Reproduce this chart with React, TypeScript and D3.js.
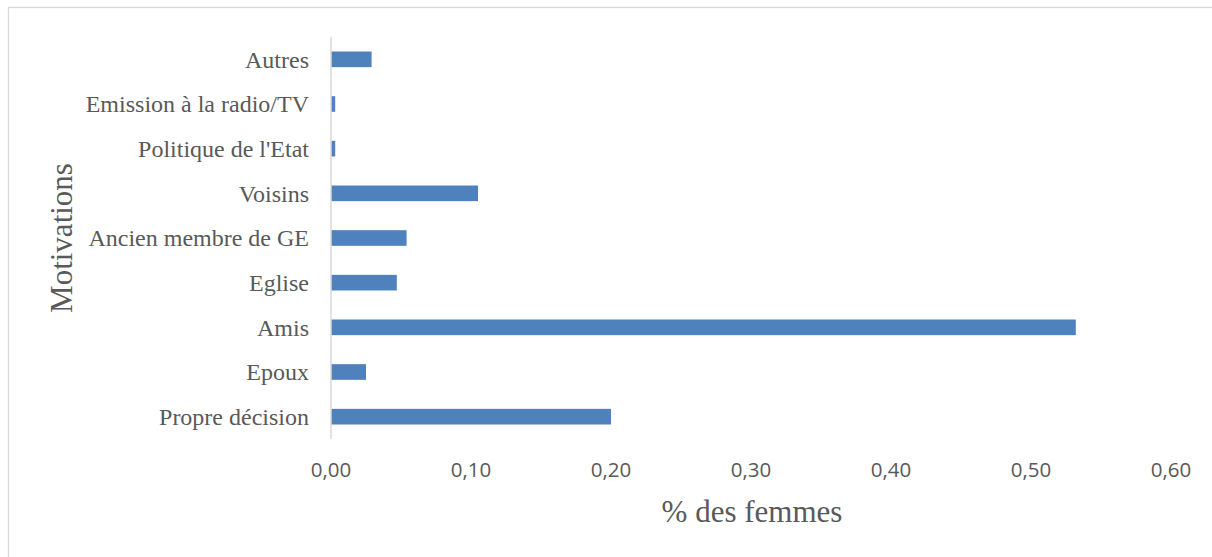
import React, { useEffect, useRef } from "react";
import * as d3 from "d3";

// top to bottom, as drawn
const categories = [
  "Autres",
  "Emission à la radio/TV",
  "Politique de l'Etat",
  "Voisins",
  "Ancien membre de GE",
  "Eglise",
  "Amis",
  "Epoux",
  "Propre décision",
];
const values = [0.029, 0.003, 0.003, 0.105, 0.054, 0.047, 0.532, 0.025, 0.2];
const xTicks = [0, 0.1, 0.2, 0.3, 0.4, 0.5, 0.6];

const W = 1212;
const H = 557;

const App = () => {
  const svgRef = useRef(null);

  useEffect(() => {
    const svg = d3.select(svgRef.current);
    svg.selectAll("*").remove();

    const left = 331;
    const right = 1171;
    const top = 37;
    const bottom = 439;

    const x = d3.scaleLinear().domain([0, 0.6]).range([left, right]);
    const y = d3
      .scaleBand()
      .domain(categories)
      .range([top, bottom])
      .paddingInner(0.65)
      .paddingOuter(0.325);

    // chart frame (runs off the page on the right and bottom)
    svg
      .append("rect")
      .attr("x", 8.5)
      .attr("y", 7.5)
      .attr("width", 1400)
      .attr("height", 800)
      .attr("fill", "#fff")
      .attr("stroke", "#d9d9d9")
      .attr("stroke-width", 1.3);

    svg
      .append("g")
      .selectAll("rect")
      .data(categories)
      .join("rect")
      .attr("x", x(0))
      .attr("y", (d) => y(d))
      .attr("width", (d, i) => x(values[i]) - x(0))
      .attr("height", y.bandwidth())
      .attr("fill", "#4f81bd");

    svg
      .append("line")
      .attr("x1", left)
      .attr("x2", left)
      .attr("y1", top)
      .attr("y2", bottom)
      .attr("stroke", "#d9d9d9")
      .attr("stroke-width", 1.5);

    // category labels
    svg
      .append("g")
      .selectAll("text")
      .data(categories)
      .join("text")
      .attr("x", left - 22)
      .attr("y", (d) => y(d) + y.bandwidth() / 2)
      .attr("dy", "0.35em")
      .attr("text-anchor", "end")
      .attr("font-family", "'Liberation Serif', serif")
      .attr("font-size", 24)
      .attr("fill", "#595959")
      .text((d) => d);

    // x tick labels
    svg
      .append("g")
      .selectAll("text")
      .data(xTicks)
      .join("text")
      .attr("x", (d) => x(d))
      .attr("y", 477)
      .attr("text-anchor", "middle")
      .attr("font-family", "'Open Sans', sans-serif")
      .attr("font-size", 20.5)
      .attr("fill", "#595959")
      .text((d) => d3.format(".2f")(d).replace(".", ","));

    svg
      .append("text")
      .attr("x", 752)
      .attr("y", 522)
      .attr("text-anchor", "middle")
      .attr("font-family", "'Liberation Serif', serif")
      .attr("font-size", 31)
      .attr("fill", "#595959")
      .text("% des femmes");

    svg
      .append("text")
      .attr("transform", "translate(72,238) rotate(-90)")
      .attr("text-anchor", "middle")
      .attr("font-family", "'Liberation Serif', serif")
      .attr("font-size", 31)
      .attr("fill", "#595959")
      .text("Motivations");
  }, []);

  return (
    <svg
      ref={svgRef}
      width={W}
      height={H}
      style={{ position: "absolute", left: 0, top: 0, background: "#fff" }}
    ></svg>
  );
};

export default App;
